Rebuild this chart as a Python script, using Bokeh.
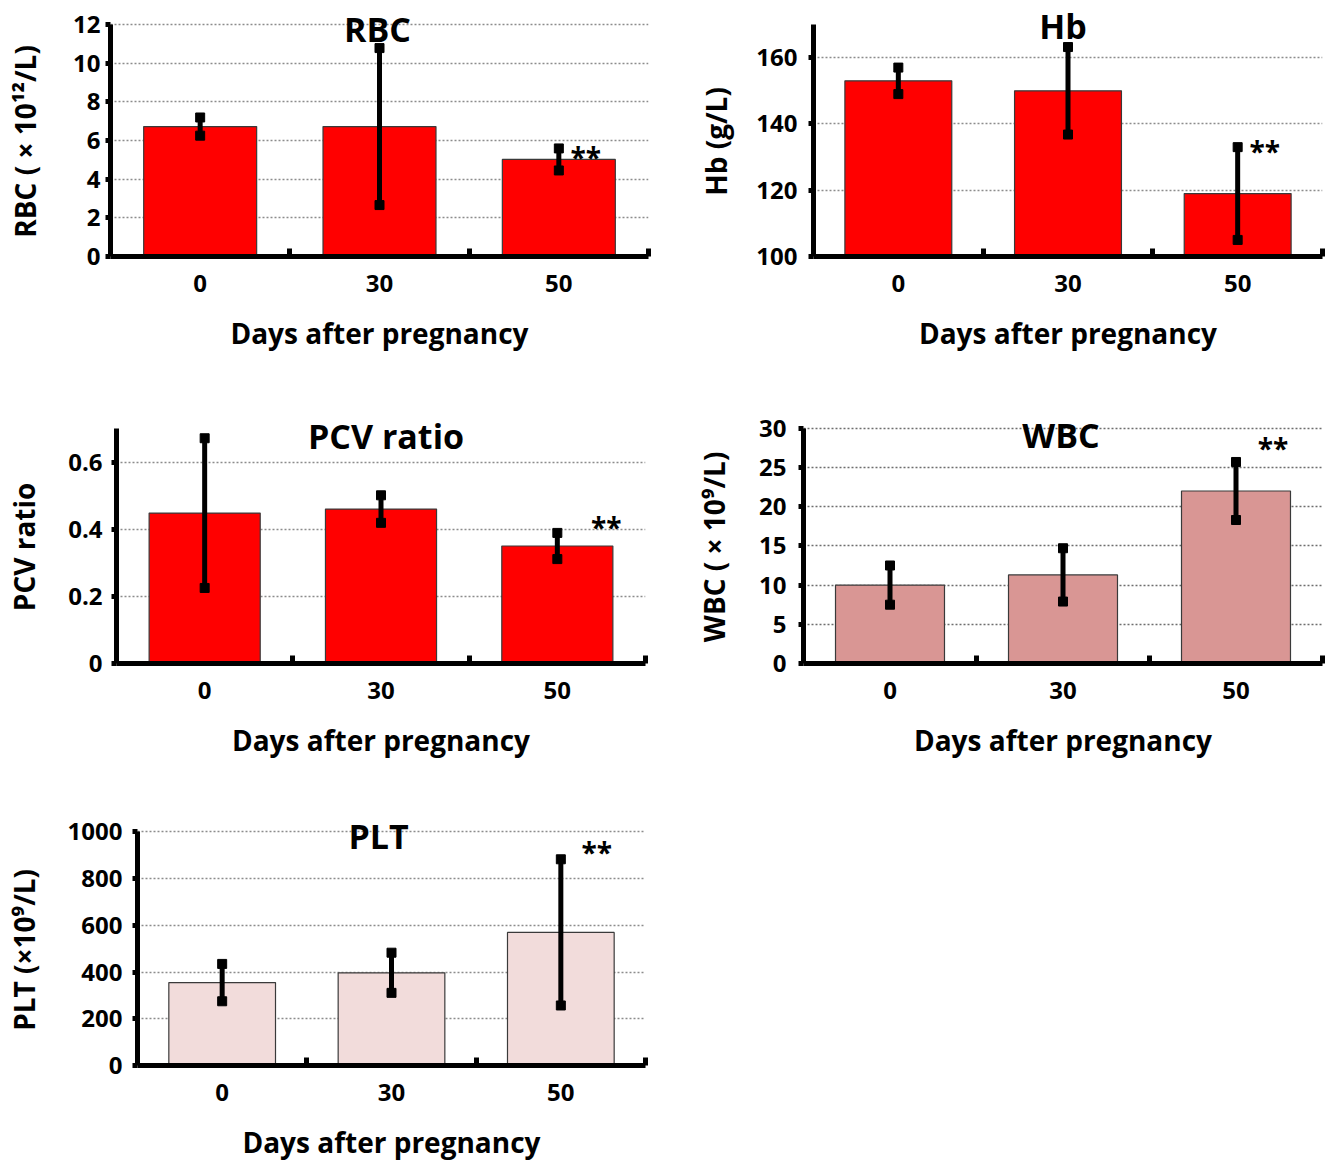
from bokeh.plotting import figure
from bokeh.layouts import column, row
from bokeh.models import Range1d, FixedTicker, Label
from bokeh.embed import file_html
from bokeh.resources import INLINE

# ---------------- data ----------------
days = ["0", "30", "50"]

rbc_mean = [6.72, 6.72, 5.02]
rbc_sd = [0.47, 4.06, 0.57]

hb_mean = [153.0, 150.0, 119.0]
hb_sd = [4.0, 13.2, 14.0]

pcv_mean = [0.448, 0.46, 0.35]
pcv_sd = [0.223, 0.041, 0.039]

wbc_mean = [10.0, 11.3, 22.0]
wbc_sd = [2.5, 3.4, 3.7]

plt_mean = [355.0, 397.0, 570.0]
plt_sd = [80.0, 86.0, 313.0]

FONT = "Open Sans"
NBSP = "\u00a0"


def make_panel(title, ylabel, mean, sd, ystart, yend, yticks, fill,
               width, height, mbl, mbr, axis_top, mbb, ylab_standoff, ytick_standoff,
               title_dx, title_dy, star_dx, star_dy, overrides=None, grid_color="#8c8c8c"):
    n = len(days)
    xs = [i + 0.5 for i in range(n)]
    mbt = max(axis_top - 20, 0)
    pad = axis_top - mbt
    frame_h = height - mbt - mbb
    axis_px = frame_h - pad
    y_top = yend + (yend - ystart) * pad / axis_px

    p = figure(width=width, height=height, output_backend="svg", toolbar_location=None,
               x_range=Range1d(0, n), y_range=Range1d(ystart, y_top),
               min_border_left=mbl, min_border_right=mbr,
               min_border_top=mbt, min_border_bottom=mbb)
    p.outline_line_color = None
    p.background_fill_color = "white"
    p.border_fill_color = "white"

    # grid
    p.xgrid.visible = False
    p.ygrid.ticker = FixedTicker(ticks=[t for t in yticks if t != ystart])
    p.ygrid.grid_line_color = grid_color
    p.ygrid.grid_line_dash = "2 2"
    p.ygrid.grid_line_width = 1.3

    # bars
    p.vbar(x=xs, top=mean, bottom=ystart, width=0.63, fill_color=fill,
           line_color="#3a3a3a", line_width=1.2)

    # error bars
    lo = [m - s for m, s in zip(mean, sd)]
    hi = [m + s for m, s in zip(mean, sd)]
    p.segment(x0=xs, y0=lo, x1=xs, y1=hi, line_color="black", line_width=5)
    p.scatter(x=xs + xs, y=lo + hi, marker="square", size=9,
              fill_color="black", line_color="black")

    # x axis
    xa = p.xaxis[0]
    xa.ticker = FixedTicker(ticks=xs, minor_ticks=list(range(1, n + 1)))
    xa.major_label_overrides = {x: d for x, d in zip(xs, days)}
    xa.major_tick_line_color = None
    xa.minor_tick_in = 8
    xa.minor_tick_out = 0
    xa.minor_tick_line_width = 5
    xa.minor_tick_line_color = "black"
    xa.axis_line_width = 5
    xa.axis_line_color = "black"
    xa.major_label_text_font = FONT
    xa.major_label_text_font_style = "bold"
    xa.major_label_text_font_size = "24px"
    xa.major_label_text_color = "black"
    xa.major_label_standoff = 12
    xa.axis_label = "Days after pregnancy"
    xa.axis_label_text_font = FONT
    xa.axis_label_text_font_style = "bold"
    xa.axis_label_text_font_size = "28px"
    xa.axis_label_text_color = "black"
    xa.axis_label_standoff = 19

    # y axis
    ya = p.yaxis[0]
    ya.ticker = FixedTicker(ticks=yticks)
    ya.bounds = (ystart, yend)
    if overrides:
        ya.major_label_overrides = overrides
    ya.major_tick_in = 0
    ya.major_tick_out = 5
    ya.major_tick_line_width = 5
    ya.major_tick_line_color = "black"
    ya.minor_tick_line_color = None
    ya.axis_line_width = 5
    ya.axis_line_color = "black"
    ya.major_label_text_font = FONT
    ya.major_label_text_font_style = "bold"
    ya.major_label_text_font_size = "24px"
    ya.major_label_text_color = "black"
    ya.major_label_standoff = ytick_standoff
    # trailing no-break spaces centre the label on the drawn axis (not the padded frame)
    ya.axis_label = ylabel + NBSP * 3
    ya.axis_label_text_font = FONT
    ya.axis_label_text_font_style = "bold"
    ya.axis_label_text_font_size = "28px"
    ya.axis_label_text_color = "black"
    ya.axis_label_standoff = ylab_standoff

    # title inside the frame
    p.add_layout(Label(x=n / 2, y=yend, text=title, text_align="center",
                       text_baseline="middle", x_offset=title_dx, y_offset=title_dy,
                       text_font=FONT, text_font_style="bold",
                       text_font_size="34px", text_color="black"))
    # significance marks
    p.add_layout(Label(x=xs[-1], y=hi[-1], text="**", text_align="center",
                       text_baseline="alphabetic", x_offset=star_dx, y_offset=star_dy,
                       text_font=FONT, text_font_style="bold",
                       text_font_size="28px", text_color="black"))
    return p


WL, WR = 672, 653
H1, H2, H3 = 400, 408, 355

p1 = make_panel("RBC", "RBC ( × 10¹²/L)", rbc_mean, rbc_sd, 0, 12,
                [0, 2, 4, 6, 8, 10, 12], "#FF0000",
                WL, H1, 110, 24, 24, 144, 26, 5, -2, -4, 27, -9)
p2 = make_panel("Hb", "Hb (g/L)", hb_mean, hb_sd, 100, 170,
                [100, 120, 140, 160], "#FF0000",
                WR, H1, 141, 3, 24, 144, 18, 11, -5, -1, 27, -4)
p3 = make_panel("PCV ratio", "PCV ratio", pcv_mean, pcv_sd, 0, 0.7,
                [0, 0.2, 0.4, 0.6], "#FF0000",
                WL, H2, 116, 27, 28, 145, 22, 9, 5, -7, 49, 6,
                overrides={0: "0"})
p4 = make_panel("WBC", "WBC ( × 10⁹/L)", wbc_mean, wbc_sd, 0, 30,
                [0, 5, 10, 15, 20, 25, 30], "#D99694",
                WR, H2, 131, 3, 25, 145, 23, 12, -2, -7, 37, 14,
                grid_color="#6e6e6e")
p5 = make_panel("PLT", "PLT (×10⁹/L)", plt_mean, plt_sd, 0, 1000,
                [0, 200, 400, 600, 800, 1000], "#F2DCDB",
                WL, H3, 137, 27, 24, 91, 22, 10, -13, -4, 36, 7)

layout = column(row(p1, p2), row(p3, p4), p5)

open("out.html", "w").write(file_html(layout, INLINE))
